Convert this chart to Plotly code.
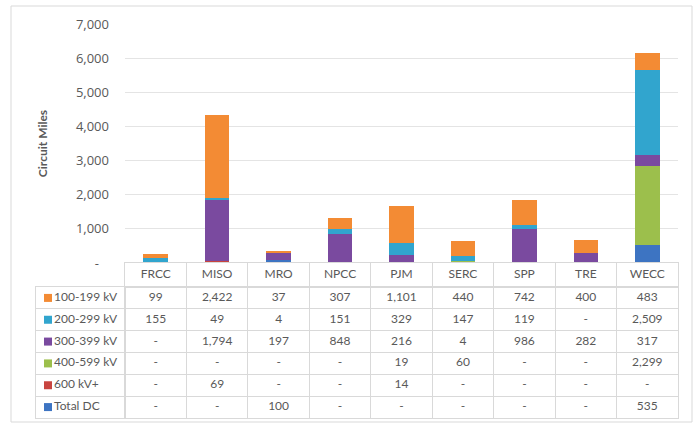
import plotly.graph_objects as go

# ---- data ----
regions = ["FRCC", "MISO", "MRO", "NPCC", "PJM", "SERC", "SPP", "TRE", "WECC"]
kv_100_199 = [99, 2422, 37, 307, 1101, 440, 742, 400, 483]
kv_200_299 = [155, 49, 4, 151, 329, 147, 119, 0, 2509]
kv_300_399 = [0, 1794, 197, 848, 216, 4, 986, 282, 317]
kv_400_599 = [0, 0, 0, 0, 19, 60, 0, 0, 2299]
kv_600_plus = [0, 69, 0, 0, 14, 0, 0, 0, 0]
total_dc = [0, 0, 100, 0, 0, 0, 0, 0, 535]

series_names = ["100-199 kV", "200-299 kV", "300-399 kV", "400-599 kV", "600 kV+", "Total DC"]
series_values = [kv_100_199, kv_200_299, kv_300_399, kv_400_599, kv_600_plus, total_dc]
series_colors = ["#F38B34", "#31A5CE", "#7A4A9F", "#9CBF4C", "#C8443F", "#3D74C2"]

y_tick_vals = [0, 1000, 2000, 3000, 4000, 5000, 6000, 7000]
y_tick_text = ["-\u00a0\u00a0\u00a0", "1,000", "2,000", "3,000", "4,000", "5,000", "6,000", "7,000"]

W, H = 694, 424
FONT = "Lato"
TXT = "#595959"
GRID = "#D9D9D9"
PGRID = "#E4E4E4"
FS = 12


def fmt(v):
    return f"{v:,}" if v else "-"


fig = go.Figure()

# stacked bars, bottom series first
for name, vals, col in reversed(list(zip(series_names, series_values, series_colors))):
    fig.add_trace(go.Bar(
        x=regions, y=vals, name=name, marker=dict(color=col, line=dict(width=0)),
        showlegend=False, hoverinfo="skip", xaxis="x", yaxis="y",
    ))

# table header (region names)
fig.add_trace(go.Scatter(
    x=regions, y=[0.5] * len(regions), mode="text", text=regions,
    textfont=dict(family=FONT, size=FS, color=TXT), showlegend=False,
    hoverinfo="skip", cliponaxis=False, xaxis="x3", yaxis="y3",
))

# table cells
for name, vals in zip(series_names, series_values):
    fig.add_trace(go.Scatter(
        x=regions, y=[name] * len(regions), mode="text", text=[fmt(v) for v in vals],
        textfont=dict(family=FONT, size=FS, color=TXT), showlegend=False,
        hoverinfo="skip", cliponaxis=False, xaxis="x2", yaxis="y2",
    ))

# legend column (coloured keys + names)
fig.add_trace(go.Scatter(
    x=[0.135] * len(series_names), y=series_names, mode="markers+text",
    marker=dict(symbol="square", size=8, color=series_colors),
    text=series_names, textposition="middle right",
    textfont=dict(family=FONT, size=FS, color=TXT), showlegend=False,
    hoverinfo="skip", cliponaxis=False, xaxis="x4", yaxis="y4",
))

tbl_left, tbl_first, tbl_right = 36, 125, 678
hdr_top, hdr_bot, tbl_bot = 263, 287, 418

grid_x = dict(
    type="category", categoryarray=regions, range=[-0.5, len(regions) - 0.5],
    tickson="boundaries", ticks="", showticklabels=False,
    showgrid=True, gridcolor=GRID, gridwidth=1, zeroline=False,
    showline=True, mirror=True, linecolor=GRID, linewidth=1, automargin=False,
)
grid_y_rows = dict(
    type="category", categoryarray=series_names, range=[len(series_names) - 0.5, -0.5],
    tickson="boundaries", ticks="", showticklabels=False,
    showgrid=True, gridcolor=GRID, gridwidth=1, zeroline=False,
    showline=True, mirror=True, linecolor=GRID, linewidth=1, automargin=False,
    domain=[(H - tbl_bot) / H, (H - hdr_bot) / H],
)

fig.update_layout(
    width=W, height=H,
    margin=dict(l=0, r=0, t=0, b=0),
    paper_bgcolor="white", plot_bgcolor="white",
    barmode="stack", bargap=0.6,
    font=dict(family=FONT, color=TXT),
    xaxis=dict(
        domain=[tbl_first / W, tbl_right / W], anchor="y",
        range=[-0.5, len(regions) - 0.5],
        showticklabels=False, showgrid=False, zeroline=False, showline=False,
        ticks="", automargin=False,
    ),
    yaxis=dict(
        domain=[(H - hdr_top) / H, (H - 24) / H], anchor="x",
        range=[0, 7000],
        tickvals=y_tick_vals, ticktext=y_tick_text,
        tickfont=dict(family="Open Sans", size=13, color=TXT),
        ticklabelstandoff=15,
        showgrid=True, gridcolor=PGRID, gridwidth=1,
        zeroline=False, showline=False,
        title=dict(text="<b>Circuit Miles</b>", font=dict(family=FONT, size=12, color=TXT), standoff=25),
        automargin=False,
    ),
    xaxis3=dict(domain=[tbl_first / W, tbl_right / W], anchor="y3", **grid_x),
    yaxis3=dict(
        domain=[(H - hdr_bot) / H, (H - hdr_top) / H], anchor="x3", range=[0, 1],
        showgrid=False, zeroline=False, showticklabels=False, ticks="",
        showline=True, mirror=True, linecolor=GRID, linewidth=1, automargin=False,
    ),
    xaxis2=dict(domain=[tbl_first / W, tbl_right / W], anchor="y2", **grid_x),
    yaxis2=dict(anchor="x2", **grid_y_rows),
    xaxis4=dict(
        domain=[tbl_left / W, tbl_first / W], anchor="y4", range=[0, 1],
        showgrid=False, zeroline=False, showticklabels=False, ticks="",
        showline=True, mirror=True, linecolor=GRID, linewidth=1, automargin=False,
    ),
    yaxis4=dict(anchor="x4", matches="y2", **grid_y_rows),
    shapes=[dict(
        type="rect", xref="paper", yref="paper",
        x0=11 / W, x1=692 / W, y0=2 / H, y1=(H - 6) / H,
        line=dict(color=GRID, width=1), fillcolor="rgba(0,0,0,0)", layer="below",
    )],
)

fig.write_html(
    "out.html",
    config={"displayModeBar": False},
    post_script="document.body.style.margin='0';",
)
